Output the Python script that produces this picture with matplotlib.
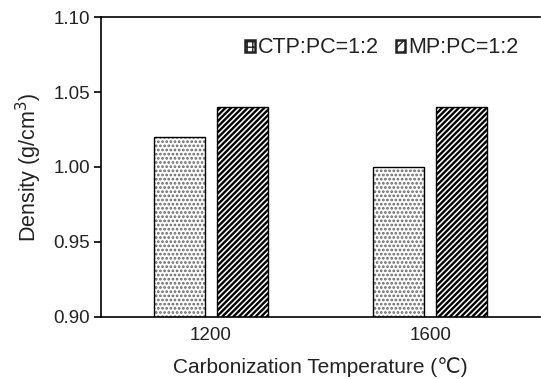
import matplotlib
matplotlib.use("Agg")
import matplotlib.pyplot as plt
import numpy as np
from matplotlib.patches import Patch

plt.rcParams['font.family'] = ['Liberation Sans', 'DejaVu Sans']

temperatures = ["1200", "1600"]
series_names = ["CTP:PC=1:2", "MP:PC=1:2"]
ctp_density = [1.02, 1.00]
mp_density = [1.04, 1.04]
y_ticks = [0.90, 0.95, 1.00, 1.05, 1.10]

TICK_FS = 13.5
TXT = '#222222'

fig = plt.figure(figsize=(5.41, 3.79), dpi=100)
ax = fig.add_axes([0.187, 0.164, 0.811, 0.791])

x = np.arange(len(temperatures))
width = 0.232
gap = 0.056
off = (width + gap) / 2

# dotted series: grey dot hatch, then a black outline on top
with plt.rc_context({'hatch.linewidth': 1.3}):
    ax.bar(x - off, ctp_density, width, color='white',
           edgecolor='#666666', hatch='....', linewidth=0)
ax.bar(x - off, ctp_density, width, color='none', edgecolor='black', linewidth=1.0)

with plt.rc_context({'hatch.linewidth': 1.7}):
    ax.bar(x + off, mp_density, width, color='white',
           edgecolor='black', hatch='//////', linewidth=1.0)

ax.set_ylim(0.90, 1.10)
ax.set_xlim(-0.5, 1.5)
ax.set_yticks(y_ticks)
ax.set_yticklabels([f"{v:.2f}" for v in y_ticks], fontsize=TICK_FS, color=TXT)
ax.set_xticks(x)
ax.set_xticklabels(temperatures, fontsize=TICK_FS, color=TXT)
ax.tick_params(axis='x', length=0, pad=7)
ax.tick_params(axis='y', direction='out', length=5, width=1.2, pad=3)

for s in ['left', 'bottom', 'top']:
    ax.spines[s].set_linewidth(1.2)
ax.spines['right'].set_visible(False)

ax.set_ylabel("Density (g/cm$^3$)", fontsize=15.5, labelpad=7, color=TXT)
ax.set_xlabel("Carbonization Temperature (\u2103)", fontsize=15, labelpad=10,
              color=TXT)

# small, dark legend keys
with plt.rc_context({'hatch.linewidth': 1.4}):
    h1 = Patch(facecolor='white', edgecolor='#222222', hatch='+++', linewidth=1.8)
    h2 = Patch(facecolor='white', edgecolor='#222222', hatch='///', linewidth=1.8)
leg = ax.legend([h1, h2], series_names, ncol=2, frameon=False, fontsize=15.5,
                loc='upper right', bbox_to_anchor=(0.98, 0.975),
                handlelength=0.45, handleheight=0.45, handletextpad=0.12,
                columnspacing=0.8, borderaxespad=0.2)
for t in leg.get_texts():
    t.set_color(TXT)

fig.savefig("out.png", dpi=100)
